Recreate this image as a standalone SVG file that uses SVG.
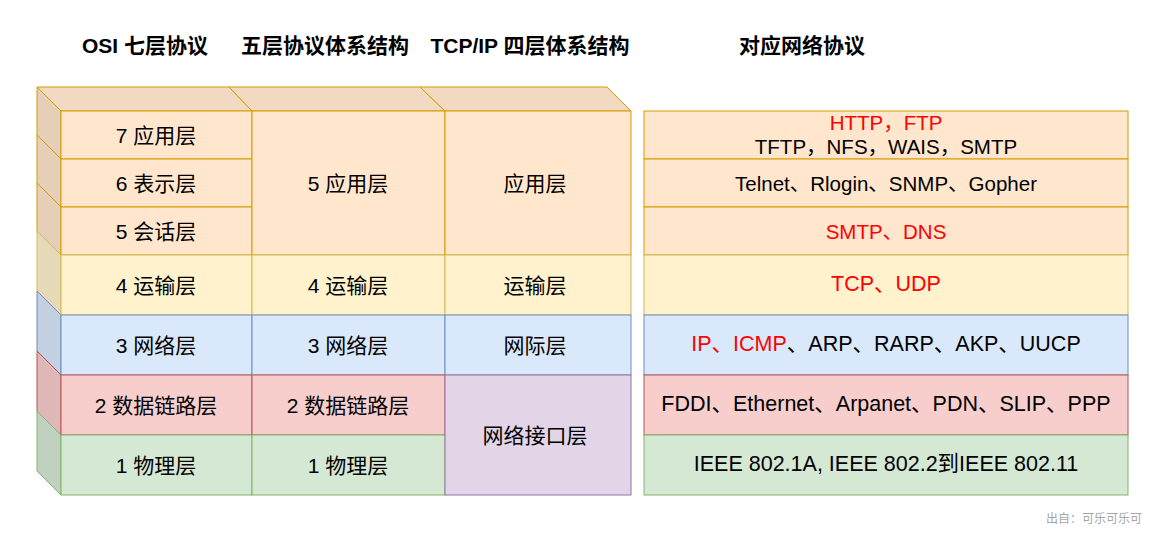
<svg xmlns="http://www.w3.org/2000/svg" width="1164" height="539" viewBox="0 0 1164 539">
<style>
text{font-family:"Liberation Sans","Noto Sans CJK SC",sans-serif;font-size:21px;fill:#000;text-anchor:middle;dominant-baseline:central}
.h{font-weight:bold;font-size:21px}
.r{fill:#ff0000}
.s{font-size:20.5px}
.m{font-size:21.5px}
.wm{font-size:12px;fill:#a6a6a6;text-anchor:end}
.o{fill:#FFE6CC;stroke:#D79B00}
.oT{fill:#F2DAC2;stroke:#D79B00}
.oS{fill:#E6CFB8;stroke:#D79B00}
.y{fill:#FFF2CC;stroke:#D6B656}
.yS{fill:#E6DAB8;stroke:#D6B656}
.b{fill:#DAE8FC;stroke:#6C8EBF}
.bS{fill:#C4D1E3;stroke:#6C8EBF}
.rd{fill:#F8CECC;stroke:#B85450}
.rdS{fill:#DFB9B8;stroke:#B85450}
.g{fill:#D5E8D4;stroke:#82B366}
.gS{fill:#C0D1BF;stroke:#82B366}
.p{fill:#E1D5E7;stroke:#9673A6}
rect,polygon{stroke-width:1}
</style>
<rect width="1164" height="539" fill="#ffffff"/>
<g id="headers">
<text class="h" x="145" y="45">OSI 七层协议</text>
<text class="h" x="325" y="45">五层协议体系结构</text>
<text class="h" x="530" y="45">TCP/IP 四层体系结构</text>
<text class="h" x="802" y="45">对应网络协议</text>
</g>
<g id="top-face">
<polygon class="oT" points="37,87 229,87 252,111 61,111"/>
<polygon class="oT" points="229,87 420,87 445,111 252,111"/>
<polygon class="oT" points="420,87 607,87 631,111 445,111"/>
</g>
<g id="side-face">
<polygon class="oS" points="37,87 61,111 61,159 37,135"/>
<polygon class="oS" points="37,135 61,159 61,207 37,183"/>
<polygon class="oS" points="37,183 61,207 61,255 37,231"/>
<polygon class="yS" points="37,231 61,255 61,315 37,291"/>
<polygon class="bS" points="37,291 61,315 61,375 37,351"/>
<polygon class="rdS" points="37,351 61,375 61,435 37,411"/>
<polygon class="gS" points="37,411 61,435 61,495 37,471"/>
</g>
<g id="osi-7"><rect class="o" x="61" y="111" width="191" height="48"/><text x="156" y="135">7 应用层</text></g>
<g id="osi-6"><rect class="o" x="61" y="159" width="191" height="48"/><text x="156" y="183">6 表示层</text></g>
<g id="osi-5"><rect class="o" x="61" y="207" width="191" height="48"/><text x="156" y="231">5 会话层</text></g>
<g id="osi-4"><rect class="y" x="61" y="255" width="191" height="60"/><text x="156" y="285">4 运输层</text></g>
<g id="osi-3"><rect class="b" x="61" y="315" width="191" height="60"/><text x="156" y="345">3 网络层</text></g>
<g id="osi-2"><rect class="rd" x="61" y="375" width="191" height="60"/><text x="156" y="405">2 数据链路层</text></g>
<g id="osi-1"><rect class="g" x="61" y="435" width="191" height="60"/><text x="156" y="465">1 物理层</text></g>
<g id="five-5"><rect class="o" x="252" y="111" width="193" height="144"/><text x="348" y="183">5 应用层</text></g>
<g id="five-4"><rect class="y" x="252" y="255" width="193" height="60"/><text x="348" y="285">4 运输层</text></g>
<g id="five-3"><rect class="b" x="252" y="315" width="193" height="60"/><text x="348" y="345">3 网络层</text></g>
<g id="five-2"><rect class="rd" x="252" y="375" width="193" height="60"/><text x="348" y="405">2 数据链路层</text></g>
<g id="five-1"><rect class="g" x="252" y="435" width="193" height="60"/><text x="348" y="465">1 物理层</text></g>
<g id="tcp-app"><rect class="o" x="445" y="111" width="186" height="144"/><text x="535" y="183">应用层</text></g>
<g id="tcp-trans"><rect class="y" x="445" y="255" width="186" height="60"/><text x="535" y="285">运输层</text></g>
<g id="tcp-net"><rect class="b" x="445" y="315" width="186" height="60"/><text x="535" y="345">网际层</text></g>
<g id="tcp-if"><rect class="p" x="445" y="375" width="186" height="120"/><text x="535" y="435">网络接口层</text></g>
<g id="proto-7"><rect class="o" x="644" y="111" width="484" height="48"/><text class="s r" x="886" y="122">HTTP，FTP</text><text class="s" x="886" y="146">TFTP，NFS，WAIS，SMTP</text></g>
<g id="proto-6"><rect class="o" x="644" y="159" width="484" height="48"/><text class="s" x="886" y="183">Telnet、Rlogin、SNMP、Gopher</text></g>
<g id="proto-5"><rect class="o" x="644" y="207" width="484" height="48"/><text class="s r" x="886" y="231">SMTP、DNS</text></g>
<g id="proto-4"><rect class="y" x="644" y="255" width="484" height="60"/><text class="m r" x="886" y="284">TCP、UDP</text></g>
<g id="proto-3"><rect class="b" x="644" y="315" width="484" height="60"/><text class="m" x="886" y="344"><tspan class="r">IP、ICMP</tspan>、ARP、RARP、AKP、UUCP</text></g>
<g id="proto-2"><rect class="rd" x="644" y="375" width="484" height="60"/><text class="m" x="886" y="404">FDDI、Ethernet、Arpanet、PDN、SLIP、PPP</text></g>
<g id="proto-1"><rect class="g" x="644" y="435" width="484" height="60"/><text class="m" x="886" y="464">IEEE 802.1A, IEEE 802.2到IEEE 802.11</text></g>
<g id="watermark"><text class="wm" x="1142" y="519">出自：可乐可乐可</text></g>
</svg>
